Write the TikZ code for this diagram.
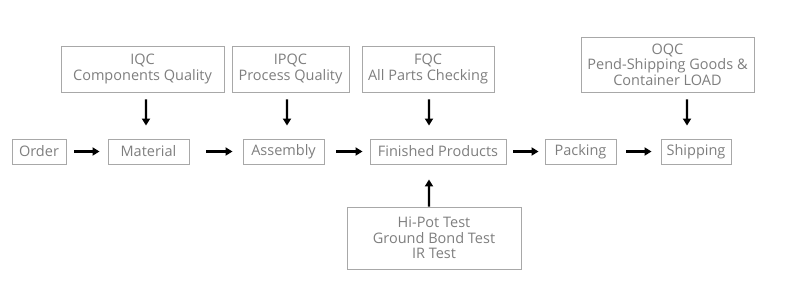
\documentclass[tikz,border=0pt]{standalone}
\usepackage{fontspec}
\setmainfont{Open Sans}
\usepackage{tikz}
\usetikzlibrary{arrows.meta,positioning}
\usepackage{xcolor}
\definecolor{boxline}{HTML}{A8A8A8}
\definecolor{boxtext}{HTML}{7E7E7E}

\begin{document}
\begin{tikzpicture}[x=1bp,y=-1bp,>={Triangle[length=7bp,width=8bp]},
  box/.style={draw=boxline, line width=0.9bp, text=boxtext, inner sep=0pt, align=center,
    font=\fontsize{14.5bp}{15.5bp}\selectfont},
  flow/.style={->, line width=2.4bp, black}]
  \useasboundingbox (0,0) rectangle (792,287);
  \node (order)    [box, minimum width=54bp,  minimum height=25bp] at (39,151.5)    {Order};
  \node (material) [box, minimum width=81bp,  minimum height=25bp] at (148.5,151.5) {Material};
  \node (assembly) [box, minimum width=81bp,  minimum height=25bp] at (283.5,151.5) {Assembly};
  \node (finished) [box, minimum width=136bp, minimum height=25bp] at (438,151.5)   {Finished Products};
  \node (packing)  [box, minimum width=71bp,  minimum height=25bp] at (580.5,151.5) {Packing};
  \node (shipping) [box, minimum width=70bp,  minimum height=25bp] at (696,151.5)   {Shipping};
  \node (iqc)  [box, minimum width=163bp, minimum height=46bp] at (142.5,69) {IQC\\Components Quality};
  \node (ipqc) [box, minimum width=117bp, minimum height=46bp] at (290.5,69) {IPQC\\Process Quality};
  \node (fqc)  [box, minimum width=132bp, minimum height=46bp] at (428,69)   {FQC\\All Parts Checking};
  \node (oqc)  [box, minimum width=173bp, minimum height=55bp] at (667.5,64.5) {OQC\\Pend-Shipping Goods \&\\Container LOAD};
  \node (tests) [box, minimum width=174bp, minimum height=62bp] at (434,238) {Hi-Pot Test\\Ground Bond Test\\IR Test};
  \draw[flow, shorten <=8bp,  shorten >=8bp] (order) -- (material);
  \draw[flow, shorten <=17bp, shorten >=10bp] (material) -- (assembly);
  \draw[flow, shorten <=12bp, shorten >=7bp] (assembly) -- (finished);
  \draw[flow, shorten <=7bp,  shorten >=6bp] (finished) -- (packing);
  \draw[flow, shorten <=10bp, shorten >=9bp] (packing) -- (shipping);
  \draw[flow, shorten <=7bp, shorten >=13bp] ([xshift=3.5bp]iqc.south) -- ([xshift=-2.5bp]material.north);
  \draw[flow, shorten <=7bp, shorten >=13bp] ([xshift=-3.5bp]ipqc.south) -- ([xshift=3.5bp]assembly.north);
  \draw[flow, shorten <=7bp, shorten >=13bp] ([xshift=1bp]fqc.south) -- ([xshift=-9bp]finished.north);
  \draw[flow, shorten <=7bp, shorten >=13bp] ([xshift=19.5bp]oqc.south) -- ([xshift=-9bp]shipping.north);
  \draw[flow, shorten >=15bp] ([xshift=-5bp]tests.north) -- ([xshift=-9bp]finished.south);
\end{tikzpicture}
\end{document}
